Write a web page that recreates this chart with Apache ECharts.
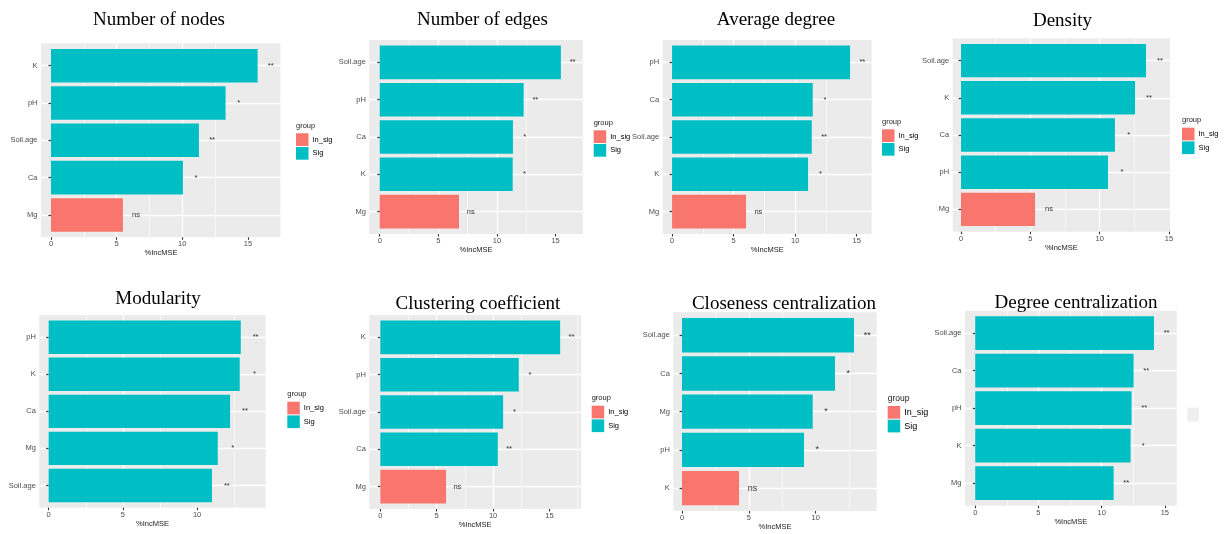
<!DOCTYPE html>
<html>
<head>
<meta charset="utf-8">
<script src="https://cdn.jsdelivr.net/npm/echarts@6/dist/echarts.min.js"></script>
<style>
  html, body { margin: 0; background: #fff; }
  #chart { width: 1226px; height: 534px; }
</style>
</head>
<body>
<div id="chart"></div>
<script>
// 数据：每个面板自上而下的类别、%IncMSE 值和显著性
const titles = ['Number of nodes', 'Number of edges', 'Average degree', 'Density',
  'Modularity', 'Clustering coefficient', 'Closeness centralization', 'Degree centralization']

const nodesCats = ['K', 'pH', 'Soil.age', 'Ca', 'Mg']
const nodesVals = [15.74, 13.3, 11.27, 10.05, 5.48]
const nodesSig = ['**', '*', '**', '*', 'ns']

const edgesCats = ['Soil.age', 'pH', 'Ca', 'K', 'Mg']
const edgesVals = [15.45, 12.27, 11.36, 11.34, 6.76]
const edgesSig = ['**', '**', '*', '*', 'ns']

const degreeCats = ['pH', 'Ca', 'Soil.age', 'K', 'Mg']
const degreeVals = [14.46, 11.43, 11.35, 11.05, 6.01]
const degreeSig = ['**', '*', '**', '*', 'ns']

const densityCats = ['Soil.age', 'K', 'Ca', 'pH', 'Mg']
const densityVals = [13.34, 12.55, 11.1, 10.6, 5.34]
const densitySig = ['**', '**', '*', '*', 'ns']

const modCats = ['pH', 'K', 'Ca', 'Mg', 'Soil.age']
const modVals = [12.94, 12.87, 12.22, 11.39, 11.0]
const modSig = ['**', '*', '**', '*', '**']

const clusterCats = ['K', 'pH', 'Soil.age', 'Ca', 'Mg']
const clusterVals = [15.95, 12.28, 10.89, 10.42, 5.83]
const clusterSig = ['**', '*', '*', '**', 'ns']

const closeCats = ['Soil.age', 'Ca', 'Mg', 'pH', 'K']
const closeVals = [12.87, 11.45, 9.78, 9.13, 4.27]
const closeSig = ['**', '*', '*', '*', 'ns']

const dcentCats = ['Soil.age', 'Ca', 'pH', 'K', 'Mg']
const dcentVals = [14.14, 12.53, 12.37, 12.29, 10.95]
const dcentSig = ['**', '**', '**', '*', '**']

const xTicks = [0, 5, 10, 15]
const groups = ['In_sig', 'Sig']
const groupColor = { In_sig: '#F8766D', Sig: '#00BFC4' }

const data = [
  [nodesCats, nodesVals, nodesSig],
  [edgesCats, edgesVals, edgesSig],
  [degreeCats, degreeVals, degreeSig],
  [densityCats, densityVals, densitySig],
  [modCats, modVals, modSig],
  [clusterCats, clusterVals, clusterSig],
  [closeCats, closeVals, closeSig],
  [dcentCats, dcentVals, dcentSig],
]

// 布局：灰色绘图区、坐标范围、标题位置、图例位置
const panels = [
  { L: 41, T: 43.3, R: 281, B: 237.3, min: -0.76, max: 17.52, tx: 159, ty: 20.3, lg: [296, 133.3] },
  { L: 369.3, T: 40, R: 582.7, B: 234, min: -0.89, max: 17.31, tx: 482.5, ty: 20.3, lg: [593.7, 130.3] },
  { L: 662.7, T: 40, R: 871.7, B: 234, min: -0.76, max: 16.22, tx: 776, ty: 20.3, lg: [882, 129.3] },
  { L: 952.7, T: 38.3, R: 1170, B: 231.7, min: -0.6, max: 15.07, tx: 1062.5, ty: 21, lg: [1182, 127.7] },
  { L: 39.3, T: 315, R: 265.7, B: 507.7, min: -0.63, max: 14.62, tx: 158, ty: 299.3, lg: [287.3, 401.7] },
  { L: 369.3, T: 315, R: 581, B: 509, min: -0.98, max: 17.8, tx: 478, ty: 303.6, lg: [591.7, 405.7] },
  { L: 673.3, T: 312.3, R: 876.7, B: 511, min: -0.65, max: 14.57, tx: 784, ty: 303.6, lg: [887.7, 406], big: true },
  { L: 965, T: 310.7, R: 1176.7, B: 505.7, min: -0.81, max: 15.94, tx: 1076, ty: 302.7, lg: null },
]

const font = 'Liberation Sans'
const grid = []
const xAxis = []
const yAxis = []
const series = []
const legend = []
const graphic = []

panels.forEach((p, i) => {
  const [cats, vals, sig] = data[i]
  const W = p.R - p.L
  const H = p.B - p.T
  const pad = H * 0.1 / 5.2 // ggplot 两端扩展 0.6 个类别，echarts 为 0.5
  const unit = W / (p.max - p.min)
  const ticks = xTicks.filter(t => t >= p.min && t <= p.max)
  const gb = 2 * i
  const gm = 2 * i + 1

  // 背景网格（灰底 + 竖向网格线 + x 轴刻度）
  grid.push({ left: p.L, top: p.T, width: W, height: H, show: true, backgroundColor: '#EBEBEB', borderWidth: 0, z: 0 })
  // 条形所在网格
  grid.push({ left: p.L, top: p.T + pad, width: W, height: H - 2 * pad, z: 0 })

  xAxis.push({
    gridIndex: gb, type: 'value', min: p.min, max: p.max, minInterval: 5, maxInterval: 5, z: 1,
    axisLine: { show: false },
    axisTick: { show: true, length: 2.5, customValues: ticks, lineStyle: { color: '#333', width: 1.1 } },
    axisLabel: { fontSize: 7.5, color: '#4D4D4D', margin: 3, fontFamily: font, customValues: ticks },
    splitLine: { show: true, showMinLine: false, showMaxLine: false, lineStyle: { color: '#fff', width: 1.3 } },
    minorTick: { show: false, splitNumber: 2 },
    minorSplitLine: { show: true, lineStyle: { color: '#fff', width: 0.6 } },
    name: '%IncMSE', nameLocation: 'middle', nameGap: 11.5,
    nameTextStyle: { fontSize: 7.5, color: '#1A1A1A', fontFamily: font },
  })
  yAxis.push({ gridIndex: gb, type: 'value', min: 0, max: 1, show: false })

  xAxis.push({ gridIndex: gm, type: 'value', min: p.min, max: p.max, show: false })
  yAxis.push({
    gridIndex: gm, type: 'category', data: cats, inverse: true, z: 1,
    axisLine: { show: false },
    axisTick: { show: true, alignWithLabel: true, length: 2.5, lineStyle: { color: '#333', width: 1.2 } },
    axisLabel: { fontSize: 7.5, color: '#4D4D4D', margin: 3.5, fontFamily: font },
    splitLine: { show: true, alignWithLabel: true, lineStyle: { color: '#fff', width: 1.3 } },
  })

  groups.forEach(g => {
    series.push({
      name: g,
      type: 'bar',
      xAxisIndex: gm,
      yAxisIndex: gm,
      barGap: '-100%',
      barCategoryGap: '10%',
      itemStyle: { color: groupColor[g] },
      label: {
        show: true,
        position: 'right',
        distance: unit,
        align: 'center',
        fontSize: (p.big ? 9 : 7.5),
        color: '#333',
        fontFamily: font,
        formatter: params => sig[params.dataIndex],
      },
      emphasis: { disabled: true },
      data: vals.map((v, k) => ((sig[k] === 'ns' ? 'In_sig' : 'Sig') === g ? v : '-')),
    })
  })

  graphic.push({
    type: 'text', x: p.tx, y: p.ty, silent: true,
    style: { text: titles[i], font: '19px "Liberation Serif"', fill: '#000', align: 'center', verticalAlign: 'middle', textAlign: 'center', textVerticalAlign: 'middle' },
  })

  if (p.lg) {
    const fs = p.big ? 9 : 7.5
    legend.push({
      left: p.lg[0], top: p.lg[1], orient: 'vertical', padding: 0,
      icon: 'rect', itemWidth: 12.5, itemHeight: 12.7, itemGap: 1,
      selectedMode: false,
      textStyle: { fontSize: fs, color: '#000', fontFamily: font, padding: [0, 0, 0, -1] },
      data: groups,
    })
    graphic.push({
      type: 'text', x: p.lg[0], y: p.lg[1] - 7.5, silent: true,
      style: { text: 'group', font: `${p.big ? 8.5 : 7.5}px "${font}"`, fill: '#1A1A1A', align: 'left', verticalAlign: 'middle', textAlign: 'left', textVerticalAlign: 'middle' },
    })
  }
})

// 最后一个面板只留下一块浅灰色的图例底
graphic.push({ type: 'rect', shape: { x: 1187.3, y: 407.7, width: 11.7, height: 14 }, style: { fill: '#EFEFEF' }, silent: true })

const chart = echarts.init(document.getElementById('chart'))
chart.setOption({
  animation: false,
  grid,
  xAxis,
  yAxis,
  legend,
  graphic,
  series,
})
window.addEventListener('resize', () => chart.resize())
</script>
</body>
</html>
